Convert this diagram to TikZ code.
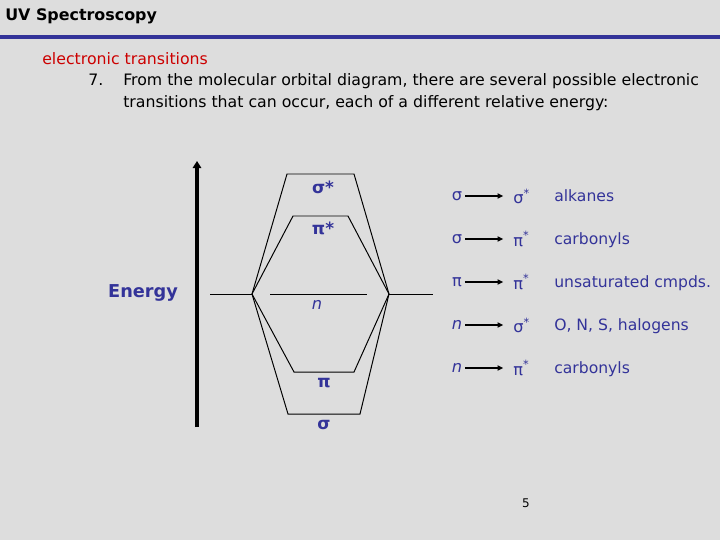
\documentclass[tikz,border=0pt]{standalone}
\usepackage{fontspec}
\setmainfont{DejaVu Sans}
\usetikzlibrary{arrows.meta}

\definecolor{slidebg}{RGB}{221,221,221}
\definecolor{navy}{RGB}{51,51,153}
\definecolor{slidered}{RGB}{204,0,0}

\begin{document}
\begin{tikzpicture}[
    x=0.025cm, y=-0.025cm,
    level/.style={line width=0.7pt},
    orb/.style={text=navy, font=\fontsize{12}{12}\selectfont\bfseries, inner sep=0pt},
    sym/.style={text=navy, font=\fontsize{11.5}{12}\selectfont, inner sep=0pt},
    lbl/.style={text=navy, font=\fontsize{11.1}{12}\selectfont, anchor=base west, inner sep=0pt},
    body/.style={anchor=base west, inner sep=0pt, font=\fontsize{11.2}{13}\selectfont},
    arr/.style={-{Triangle[length=4pt,width=3.6pt]}, line width=1pt,
                shorten <=2pt, shorten >=7pt}
  ]
    \fill[slidebg] (0,0) rectangle (720,540);
    \useasboundingbox (0,0) rectangle (720,540);

    % heading
    \node[body, font=\fontsize{11.3}{13}\selectfont\bfseries] (title) at (5,20) {UV Spectroscopy};
    \draw[navy, line width=2.2pt] (0,37) -- (720,37);

    \node[body, text=slidered] (topic) at (42,64) {electronic transitions};
    \node[body] (num) at (88,85) {7.};
    \node[body] (line1) at (123,85) {From the molecular orbital diagram, there are several possible electronic};
    \node[body] (line2) at (123,107) {transitions that can occur, each of a different relative energy:};

    % energy axis
    \coordinate (ebot) at (197,427);
    \coordinate (etop) at (197,161);
    \draw[line width=2.8pt, -{Triangle[length=5pt,width=6pt]}] (ebot) -- (etop);
    \node[text=navy, font=\fontsize{12.6}{14}\selectfont\bfseries] (energy) at (143,293) {Energy};

    % orbital levels
    \coordinate (al) at (210,294);
    \coordinate (L)  at (252,294);
    \coordinate (R)  at (389,294);
    \coordinate (ar) at (433,294);
    \coordinate (ss1) at (287,174); \coordinate (ss2) at (354,174);
    \coordinate (ps1) at (293,216); \coordinate (ps2) at (348,216);
    \coordinate (p1)  at (294,372); \coordinate (p2)  at (354,372);
    \coordinate (s1)  at (288,414); \coordinate (s2)  at (360,414);
    \coordinate (n1)  at (270,294); \coordinate (n2)  at (367,294);

    \draw[level] (al) -- (L);
    \draw[level] (R) -- (ar);
    \draw[level] (n1) -- (n2);
    \draw[level] (L) -- (ss1) -- (ss2) -- (R);
    \draw[level] (L) -- (ps1) -- (ps2) -- (R);
    \draw[level] (L) -- (p1) -- (p2) -- (R);
    \draw[level] (L) -- (s1) -- (s2) -- (R);

    \node[orb] (ssl) at (323,187) {σ*};
    \node[orb] (psl) at (323,228) {π*};
    \node[sym, font=\fontsize{11.5}{12}\selectfont\itshape] (nl) at (317,305) {n};
    \node[orb] (pl)  at (324,383) {π};
    \node[orb] (sl)  at (324,425) {σ};

    % transitions
    \node[sym] (f1) at (457,196) {σ};
    \node[sym] (f2) at (457,239) {σ};
    \node[sym] (f3) at (457,282) {π};
    \node[sym, font=\fontsize{11.5}{12}\selectfont\itshape] (f4) at (457,325) {n};
    \node[sym, font=\fontsize{11.5}{12}\selectfont\itshape] (f5) at (457,368) {n};

    \node[sym, anchor=west] (t1) at (513,196) {σ\textsuperscript{*}};
    \node[sym, anchor=west] (t2) at (513,239) {π\textsuperscript{*}};
    \node[sym, anchor=west] (t3) at (513,282) {π\textsuperscript{*}};
    \node[sym, anchor=west] (t4) at (513,325) {σ\textsuperscript{*}};
    \node[sym, anchor=west] (t5) at (513,368) {π\textsuperscript{*}};

    \draw[arr] (f1) -- (t1);
    \draw[arr] (f2) -- (t2);
    \draw[arr] (f3) -- (t3);
    \draw[arr] (f4) -- (t4);
    \draw[arr] (f5) -- (t5);

    \node[lbl] (c1) at (554,201) {alkanes};
    \node[lbl] (c2) at (554,244) {carbonyls};
    \node[lbl] (c3) at (554,287) {unsaturated cmpds.};
    \node[lbl] (c4) at (554,330) {O, N, S, halogens};
    \node[lbl] (c5) at (554,373) {carbonyls};

    \node[font=\fontsize{8.5}{9}\selectfont] (page) at (526,503) {5};
\end{tikzpicture}
\end{document}
